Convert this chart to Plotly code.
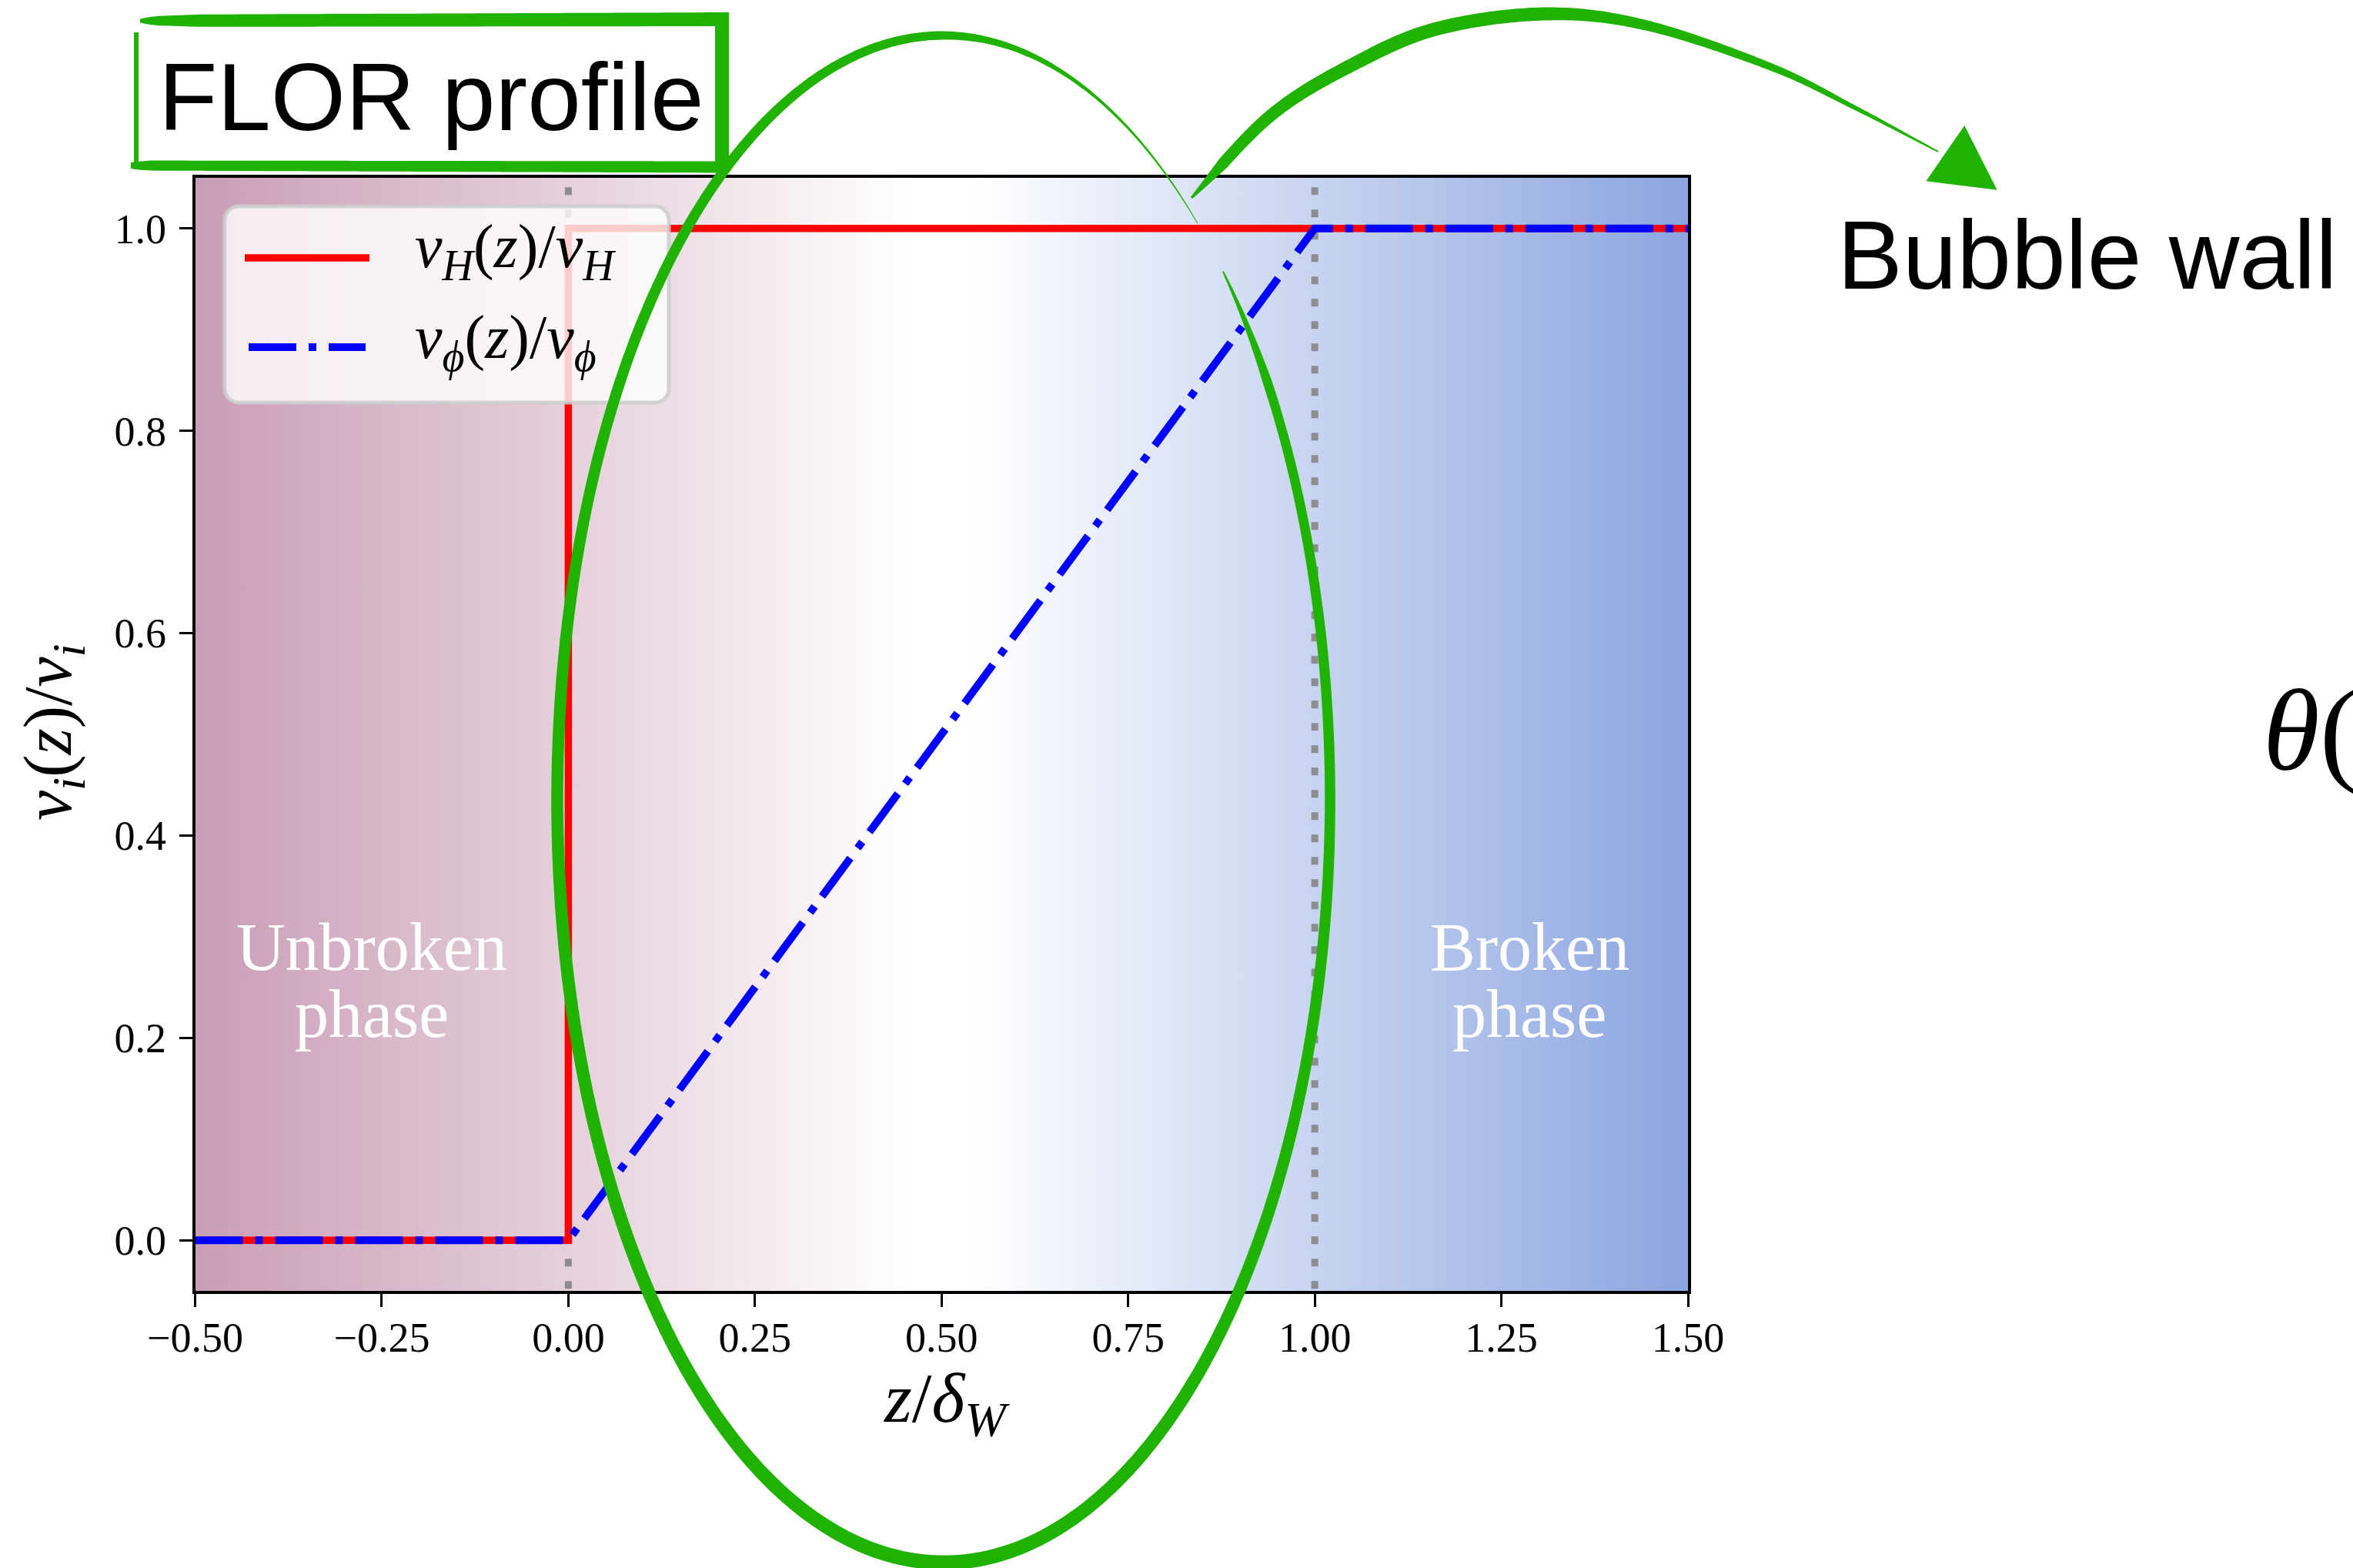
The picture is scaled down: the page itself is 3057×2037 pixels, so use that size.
import numpy as np
import plotly.graph_objects as go

# ---------------------------------------------------------------------------
# Wall profile data (z in units of the wall width delta_W)
# ---------------------------------------------------------------------------
z_higgs = [-0.5, 0.0, 0.0, 1.5]
v_higgs = [0.0, 0.0, 1.0, 1.0]

z_phi = [-0.5, 0.0, 1.0, 1.5]
v_phi = [0.0, 0.0, 1.0, 1.0]

wall_edges = [0.0, 1.0]

x_range = [-0.5, 1.5]
y_range = [-0.05, 1.05]
x_ticks = [-0.5, -0.25, 0.0, 0.25, 0.5, 0.75, 1.0, 1.25, 1.5]
y_ticks = [0.0, 0.2, 0.4, 0.6, 0.8, 1.0]

label_higgs = "<i>v</i><sub><i>H</i></sub>(<i>z</i>)/<i>v</i><sub><i>H</i></sub>"
label_phi = "<i>v</i><sub><i>ϕ</i></sub>(<i>z</i>)/<i>v</i><sub><i>ϕ</i></sub>"
x_title = "<i>z</i>/<i>δ</i><sub><i>W</i></sub>"
y_title = "<i>v</i><sub><i>i</i></sub>(<i>z</i>)/<i>v</i><sub><i>i</i></sub>"

# ---------------------------------------------------------------------------
# Page geometry and styles
# ---------------------------------------------------------------------------
W_PX, H_PX = 3057, 2037
PLOT_L, PLOT_R, PLOT_T, PLOT_B = 253.5, 2193.0, 231.0, 1677.0

SERIF = "Liberation Serif"
SANS = "Liberation Sans"
GREEN = "#1FB200"
PINK, BLUE_BG = "#C99DB5", "#8BA5E0"


def px(x):
    return x / W_PX


def py(y):
    return 1.0 - y / H_PX


def path_from(points, close=True):
    parts = [f"{'M' if i == 0 else 'L'}{px(x):.5f},{py(y):.5f}"
             for i, (x, y) in enumerate(points)]
    return " ".join(parts) + (" Z" if close else "")


def ribbon(xs, ys, widths):
    """Filled polygon of a brush stroke with varying width along its centreline."""
    xs, ys, widths = map(np.asarray, (xs, ys, widths))
    dx, dy = np.gradient(xs), np.gradient(ys)
    norm = np.hypot(dx, dy)
    norm[norm == 0] = 1.0
    nx, ny = -dy / norm, dx / norm
    left = list(zip(xs + nx * widths / 2, ys + ny * widths / 2))
    right = list(zip(xs - nx * widths / 2, ys - ny * widths / 2))
    return path_from(left + right[::-1])


def catmull_rom(pts, n=40):
    pts = np.asarray(pts, dtype=float)
    ext = np.vstack([2 * pts[0] - pts[1], pts, 2 * pts[-1] - pts[-2]])
    out = []
    for i in range(1, len(ext) - 2):
        p0, p1, p2, p3 = ext[i - 1], ext[i], ext[i + 1], ext[i + 2]
        for t in np.linspace(0, 1, n, endpoint=False):
            t2, t3 = t * t, t * t * t
            out.append(0.5 * ((2 * p1) + (-p0 + p2) * t
                              + (2 * p0 - 5 * p1 + 4 * p2 - p3) * t2
                              + (-p0 + 3 * p1 - 3 * p2 + p3) * t3))
    out.append(pts[-1])
    return np.array(out)


fig = go.Figure()

# shaded background: unbroken (pink) -> wall (white) -> broken (blue)
fig.add_trace(go.Scatter(
    x=[x_range[0], x_range[1], x_range[1], x_range[0], x_range[0]],
    y=[y_range[0], y_range[0], y_range[1], y_range[1], y_range[0]],
    mode="lines", fill="toself", line=dict(width=0),
    fillgradient=dict(type="horizontal",
                      colorscale=[[0, PINK], [0.48, "#FFFFFF"], [0.52, "#FFFFFF"],
                                  [1, BLUE_BG]]),
    hoverinfo="skip", showlegend=False))

# wall boundaries
for z0 in wall_edges:
    fig.add_trace(go.Scatter(
        x=[z0, z0], y=[y_range[0] - 0.02, y_range[1] + 0.02], mode="lines",
        line=dict(color="rgba(128,128,128,0.85)", width=9, dash="10px,19px"),
        hoverinfo="skip", showlegend=False))

fig.add_trace(go.Scatter(x=z_higgs, y=v_higgs, mode="lines", name=label_higgs,
                         line=dict(color="#FF0000", width=9.5), showlegend=False))
fig.add_trace(go.Scatter(x=z_phi, y=v_phi, mode="lines", name=label_phi,
                         line=dict(color="#0000FF", width=10,
                                   dash="62px,16px,10px,16px"),
                         showlegend=False))

shapes = []

# legend frame (rounded, semi-transparent)
lx0, ly0, lx1, ly1, rad = 292, 268, 869, 523, 18
corner = np.linspace(0, np.pi / 2, 8)
frame = []
for cx, cy, a0 in [(lx1 - rad, ly0 + rad, -np.pi / 2), (lx1 - rad, ly1 - rad, 0),
                   (lx0 + rad, ly1 - rad, np.pi / 2), (lx0 + rad, ly0 + rad, np.pi)]:
    frame += [(cx + rad * np.cos(a0 + c), cy + rad * np.sin(a0 + c)) for c in corner]
shapes.append(dict(type="path", path=path_from(frame), xref="paper", yref="paper",
                   fillcolor="rgba(255,255,255,0.8)",
                   line=dict(color="rgba(204,204,204,0.85)", width=5), layer="above"))
shapes.append(dict(type="line", xref="paper", yref="paper",
                   x0=px(318), x1=px(480), y0=py(335), y1=py(335),
                   line=dict(color="#FF0000", width=9.5), layer="above"))
shapes.append(dict(type="line", xref="paper", yref="paper",
                   x0=px(323), x1=px(475), y0=py(451), y1=py(451),
                   line=dict(color="#0000FF", width=10, dash="62px,16px,10px,16px"),
                   layer="above"))

# hand-drawn ellipse around the wall region
ecx, ecy, ea, eb = 1226, 1038, 502, 992
t = np.radians(np.linspace(-43.7, 311.1, 500))
s = np.linspace(0, 1, t.size)
ew = np.interp(s, [0, 0.03, 0.2, 0.377, 0.6, 0.8, 0.884, 0.95, 1.0],
               [2, 12, 15, 19, 16, 13, 11, 4, 1])
shapes.append(dict(type="path", xref="paper", yref="paper", layer="above",
                   path=ribbon(ecx + ea * np.cos(t), ecy + eb * np.sin(t), ew),
                   fillcolor=GREEN, line=dict(width=0)))

# arrow sweeping from the wall towards the "Bubble wall" label
arc = catmull_rom([(1548, 257), (1651, 150), (1759, 83), (1868, 37), (2009, 18),
                   (2139, 33), (2301, 87), (2410, 140), (2518, 197)], n=30)
sa = np.linspace(0, 1, len(arc))
aw = np.interp(sa, [0, 0.05, 0.3, 0.5, 0.8, 1.0], [3, 15, 18, 17, 8, 2])
shapes.append(dict(type="path", xref="paper", yref="paper", layer="above",
                   path=ribbon(arc[:, 0], arc[:, 1], aw),
                   fillcolor=GREEN, line=dict(width=0)))
shapes.append(dict(type="path", xref="paper", yref="paper", layer="above",
                   path=path_from([(2552, 166), (2505, 234), (2592, 245)]),
                   fillcolor=GREEN, line=dict(color=GREEN, width=3)))

# hand-drawn frame around the title
n = 60
tx = np.linspace(182, 947, n)
shapes.append(dict(type="path", xref="paper", yref="paper", layer="above",
                   path=ribbon(tx, np.linspace(27, 25, n),
                               np.interp(tx, [182, 200, 260, 947], [5, 12, 16, 18])),
                   fillcolor=GREEN, line=dict(width=0)))
shapes.append(dict(type="path", xref="paper", yref="paper", layer="above",
                   path=ribbon(np.linspace(938, 938, n), np.linspace(17, 224, n),
                               np.full(n, 18)),
                   fillcolor=GREEN, line=dict(width=0)))
bx = np.linspace(170, 947, n)
shapes.append(dict(type="path", xref="paper", yref="paper", layer="above",
                   path=ribbon(bx, np.linspace(215, 217, n),
                               np.interp(bx, [170, 190, 947], [8, 13, 15])),
                   fillcolor=GREEN, line=dict(width=0)))
shapes.append(dict(type="line", xref="paper", yref="paper", layer="above",
                   x0=px(177), x1=px(177), y0=py(42), y1=py(220),
                   line=dict(color=GREEN, width=6)))

annotations = [
    dict(text=label_higgs, x=px(537), y=py(326), xanchor="left", yanchor="middle",
         font=dict(family=SERIF, size=80, color="black")),
    dict(text=label_phi, x=px(537), y=py(444), xanchor="left", yanchor="middle",
         font=dict(family=SERIF, size=80, color="black")),
    dict(text="Unbroken", x=px(483), y=py(1230), xanchor="center", yanchor="middle",
         font=dict(family=SERIF, size=88, color="white")),
    dict(text="phase", x=px(483), y=py(1317), xanchor="center", yanchor="middle",
         font=dict(family=SERIF, size=88, color="white")),
    dict(text="Broken", x=px(1987), y=py(1230), xanchor="center", yanchor="middle",
         font=dict(family=SERIF, size=88, color="white")),
    dict(text="phase", x=px(1987), y=py(1317), xanchor="center", yanchor="middle",
         font=dict(family=SERIF, size=88, color="white")),
    dict(text=x_title, x=px(1229), y=py(1822), xanchor="center", yanchor="middle",
         font=dict(family=SERIF, size=92, color="black")),
    dict(text=y_title, x=px(68), y=py(951), xanchor="center", yanchor="middle",
         textangle=-90, font=dict(family=SERIF, size=88, color="black")),
    dict(text="FLOR profile", x=px(560), y=py(125), xanchor="center", yanchor="middle",
         font=dict(family=SANS, size=125, color="black")),
    dict(text="Bubble wall", x=px(2712), y=py(331), xanchor="center", yanchor="middle",
         font=dict(family=SANS, size=127, color="black")),
    dict(text="<i>θ</i>(", x=px(2938), y=py(949), xanchor="left", yanchor="middle",
         font=dict(family=SERIF, size=150, color="black")),
]
for a in annotations:
    a.update(xref="paper", yref="paper", showarrow=False)

axis_common = dict(showgrid=False, zeroline=False, showline=True, linecolor="black",
                   linewidth=3.5, mirror=True, ticks="outside", ticklen=17,
                   tickwidth=3, tickcolor="black", automargin=False,
                   tickfont=dict(family=SERIF, size=54, color="black"))

fig.update_layout(
    width=W_PX, height=H_PX,
    margin=dict(l=0, r=0, t=0, b=0, autoexpand=False),
    paper_bgcolor="white", plot_bgcolor="white",
    showlegend=False,
    xaxis=dict(domain=[PLOT_L / W_PX, PLOT_R / W_PX], range=x_range,
               tickvals=x_ticks, tickformat=".2f", ticklabelstandoff=-7,
               **axis_common),
    yaxis=dict(domain=[1 - PLOT_B / H_PX, 1 - PLOT_T / H_PX], range=y_range,
               tickvals=y_ticks, tickformat=".1f", ticklabelstandoff=6,
               **axis_common),
    shapes=shapes,
    annotations=annotations,
)

fig.write_html("out.html")
